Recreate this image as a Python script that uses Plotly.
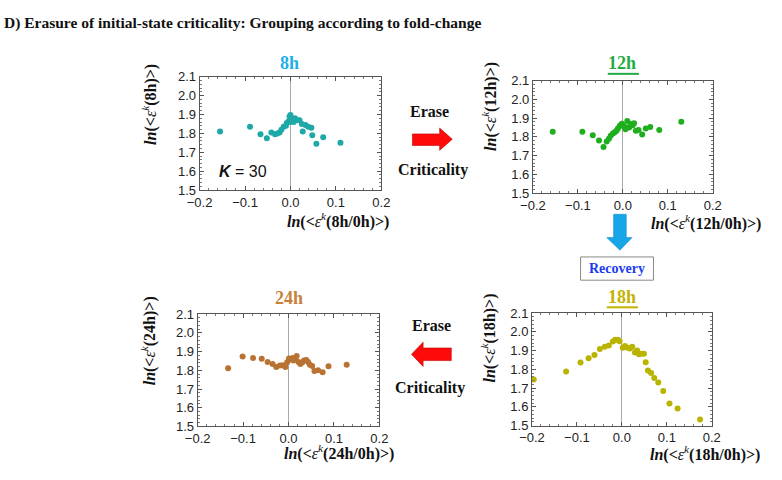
import plotly.graph_objects as go

# data
x_8h = [-0.155, -0.089, -0.066, -0.052, -0.042, -0.034, -0.029, -0.024, -0.020, -0.015,
        -0.010, -0.008, -0.004, -0.002, 0.000, 0.003, 0.000, 0.007, 0.010, 0.015,
        0.020, 0.025, 0.027, 0.033, 0.039, 0.046, 0.048, 0.057, 0.072, 0.110]
y_8h = [1.810, 1.835, 1.795, 1.775, 1.805, 1.795, 1.800, 1.805, 1.820, 1.835,
        1.840, 1.855, 1.865, 1.890, 1.860, 1.875, 1.897, 1.860, 1.880, 1.870,
        1.870, 1.850, 1.810, 1.845, 1.835, 1.830, 1.790, 1.745, 1.780, 1.750]

x_12h = [-0.156, -0.090, -0.067, -0.053, -0.043, -0.036, -0.031, -0.027, -0.022, -0.018,
         -0.014, -0.011, -0.007, -0.004, -0.002, 0.000, 0.003, 0.006, 0.010, 0.014,
         0.017, 0.022, 0.025, 0.029, 0.035, 0.043, 0.051, 0.061, 0.081, 0.130]
y_12h = [1.827, 1.827, 1.808, 1.780, 1.745, 1.775, 1.790, 1.806, 1.818, 1.824,
         1.832, 1.845, 1.858, 1.864, 1.870, 1.862, 1.855, 1.840, 1.885, 1.850,
         1.868, 1.862, 1.873, 1.832, 1.836, 1.812, 1.845, 1.852, 1.836, 1.880]

x_18h = [-0.196, -0.124, -0.092, -0.074, -0.061, -0.049, -0.038, -0.029, -0.020, -0.015,
         -0.009, -0.005, 0.002, 0.007, 0.013, 0.018, 0.023, 0.029, 0.034, 0.038,
         0.043, 0.049, 0.053, 0.058, 0.065, 0.072, 0.081, 0.092, 0.106, 0.124, 0.174]
y_18h = [1.745, 1.789, 1.836, 1.859, 1.876, 1.909, 1.920, 1.927, 1.948, 1.958,
         1.958, 1.950, 1.915, 1.925, 1.915, 1.911, 1.920, 1.890, 1.900, 1.880,
         1.883, 1.883, 1.838, 1.794, 1.780, 1.754, 1.729, 1.684, 1.617, 1.591, 1.532]

x_24h = [-0.133, -0.101, -0.078, -0.059, -0.046, -0.035, -0.027, -0.019, -0.013, -0.007,
         -0.003, 0.001, 0.004, 0.009, 0.011, 0.015, 0.018, 0.022, 0.026, 0.030,
         0.034, 0.039, 0.043, 0.047, 0.052, 0.057, 0.065, 0.075, 0.088, 0.128]
y_24h = [1.811, 1.874, 1.865, 1.862, 1.844, 1.834, 1.817, 1.825, 1.827, 1.817,
         1.843, 1.863, 1.857, 1.866, 1.852, 1.860, 1.876, 1.844, 1.834, 1.841,
         1.852, 1.855, 1.844, 1.830, 1.823, 1.796, 1.800, 1.790, 1.822, 1.830]

x_ticks = [-0.2, -0.1, 0.0, 0.1, 0.2]
x_ticklabels = ["\u22120.2", "\u22120.1", "0.0", "0.1", "0.2"]
y_ticks = [1.5, 1.6, 1.7, 1.8, 1.9, 2.0, 2.1]

W, H = 782, 480
SERIF = "Liberation Serif"


def px(x):
    return x / W


def py(y):
    return 1 - y / H


# panel: name, x, y, marker colour, box in pixels (left, right, top, bottom)
panels = [
    ("8h", x_8h, y_8h, "#1fa8a8", (192, 379, 72, 189)),
    ("12h", x_12h, y_12h, "#1eae1e", (535, 720, 76, 192)),
    ("24h", x_24h, y_24h, "#b87333", (190, 377, 317, 433)),
    ("18h", x_18h, y_18h, "#b8b400", (534, 719, 316, 432)),
]

fig = go.Figure()
layout = {}
annotations = []
shapes = []

for i, (name, xs, ys, mcol, box) in enumerate(panels, start=1):
    l, r, t, b = box
    xa = "x" if i == 1 else "x%d" % i
    ya = "y" if i == 1 else "y%d" % i
    fig.add_trace(go.Scatter(x=xs, y=ys, mode="markers", xaxis=xa, yaxis=ya,
                             marker=dict(color=mcol, size=6), showlegend=False))
    common = dict(showline=True, mirror="ticks", linecolor="#555", linewidth=1,
                  ticks="inside", ticklen=4, tickcolor="#555", showgrid=False,
                  tickfont=dict(family="Liberation Sans", size=13, color="#222"),
                  minor=dict(ticks="inside", ticklen=2, tickcolor="#777", dtick=0.02))
    layout["xaxis" if i == 1 else "xaxis%d" % i] = dict(
        domain=[px(l), px(r)], range=[-0.2, 0.2], anchor=ya,
        tickvals=x_ticks, ticktext=x_ticklabels,
        zeroline=True, zerolinecolor="#aaa", zerolinewidth=1, **common)
    layout["yaxis" if i == 1 else "yaxis%d" % i] = dict(
        domain=[py(b), py(t)], range=[1.5, 2.1], anchor=xa,
        tickvals=y_ticks, tickformat=".1f", zeroline=False, **common)


def note(text, x, y, size, color="#111", family=SERIF, **kw):
    d = dict(text=text, x=px(x), y=py(y), xref="paper", yref="paper", showarrow=False,
             xanchor="center", yanchor="middle", font=dict(family=family, size=size, color=color))
    d.update(kw)
    annotations.append(d)


def ylab(t):
    return "<b><i>ln</i>(&lt;</b><i>\u03b5</i><sup><i>k</i></sup><b>(" + t + ")&gt;)</b>"


def xlab(t):
    return "<b><i>ln</i>(&lt;</b><i>\u03b5</i><sup><i>k</i></sup><b>(" + t + "/0h)&gt;)</b>"


# panel titles, axis titles
for txt, x, y, c in [("8h", 284, 58, "#1cb0e6"), ("12h", 627, 58, "#22aa44"),
                     ("24h", 284, 300, "#c8803a"), ("18h", 627, 299, "#c4b200")]:
    note("<b>" + txt + "</b>", x, y, 18, c)

for txt, x, y in [("8h", 141, 101), ("12h", 491, 103), ("24h", 139, 345), ("18h", 489, 342)]:
    note(ylab(txt), x, y, 16, textangle=-90)

for txt, x, y in [("8h", 334, 220), ("12h", 713, 222), ("24h", 335, 460), ("18h", 712, 461)]:
    note(xlab(txt), x, y, 16)

# underline for 12h and 18h titles
shapes.append(dict(type="line", xref="paper", yref="paper", x0=px(612), x1=px(644),
                   y0=py(69), y1=py(69), line=dict(color="#22aa44", width=2)))
shapes.append(dict(type="line", xref="paper", yref="paper", x0=px(611), x1=px(643),
                   y0=py(310), y1=py(310), line=dict(color="#c4b200", width=2)))

# main title
note("<b>D) Erasure of initial-state criticality: Grouping according to fold-change</b>",
     -11, 17, 15.5, xanchor="left")

# K = 30
note("<b><i>K</i></b> = 30", 210, 170, 16, family="Liberation Sans", xanchor="left")

# erase / criticality labels
for txt, x, y in [("Erase", 429, 108), ("Criticality", 432, 168), ("Erase", 431, 329), ("Criticality", 429, 393)]:
    note("<b>" + txt + "</b>", x, y, 16)


def poly(pts):
    return "M " + " L ".join("%.4f,%.4f" % (px(a), py(b)) for a, b in pts) + " Z"


# arrows
shapes.append(dict(type="path", xref="paper", yref="paper",
                   path=poly([(411, 131), (439, 131), (439, 125), (452, 136.5), (439, 148), (439, 143), (411, 143)]),
                   fillcolor="#ff0a0a", line=dict(color="#c00000", width=0.6)))
shapes.append(dict(type="path", xref="paper", yref="paper",
                   path=poly([(451, 352), (422, 352), (422, 346), (410, 358.5), (422, 371), (422, 365), (451, 365)]),
                   fillcolor="#ff0a0a", line=dict(color="#c00000", width=0.6)))
shapes.append(dict(type="path", xref="paper", yref="paper",
                   path=poly([(618, 214), (631, 214), (631, 238), (637, 238), (624.5, 251), (611, 238), (618, 238)]),
                   fillcolor="#17a6e8", line=dict(color="#1090d0", width=0.6)))

# recovery box
shapes.append(dict(type="rect", xref="paper", yref="paper", x0=px(584), x1=px(659), y0=py(282), y1=py(258),
                   line=dict(color="#888", width=1), fillcolor="white", layer="below"))
note("<b>Recovery</b>", 621.5, 270, 14, "#1a3cf0")

fig.update_layout(width=W, height=H, margin=dict(l=0, r=0, t=0, b=0),
                  paper_bgcolor="white", plot_bgcolor="white",
                  annotations=annotations, shapes=shapes, **layout)

fig.write_html("out.html", config={"displayModeBar": False},
               post_script="document.body.style.margin='0';")
